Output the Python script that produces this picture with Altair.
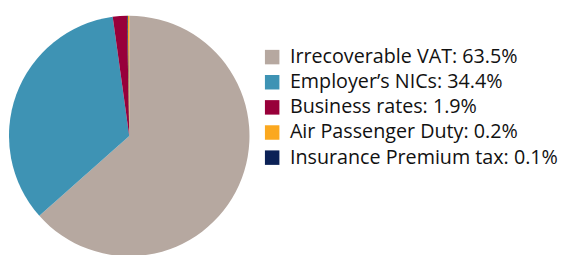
import altair as alt
import pandas as pd

categories = ["Irrecoverable VAT", "Employer\u2019s NICs", "Business rates",
              "Air Passenger Duty", "Insurance Premium tax"]
values = [63.5, 34.4, 1.9, 0.2, 0.1]
pie_order = [0, 1, 2, 4, 3]
colors = ["#B6A8A0", "#3E93B4", "#98003A", "#FBA81F", "#0B2156"]

labels = [f"{c}: {v}%" for c, v in zip(categories, values)]
df = pd.DataFrame({"label": labels, "value": values, "order": pie_order})

chart = alt.Chart(df).mark_arc(radius=122).encode(
    theta=alt.Theta("value:Q", stack=True),
    order=alt.Order("order:Q"),
    x=alt.value(123),
    y=alt.value(128),
    color=alt.Color(
        "label:N",
        scale=alt.Scale(domain=labels, range=colors),
        sort=labels,
        legend=alt.Legend(
            title=None,
            orient="none",
            legendX=258,
            legendY=38,
            symbolType="square",
            symbolSize=216,
            symbolStrokeWidth=0,
            labelFontSize=20,
            labelFont="Open Sans",
            labelColor="#111111",
            rowPadding=5.5,
            labelOffset=8,
            padding=0,
            labelLimit=400,
        ),
    ),
).properties(width=250, height=235, padding=0).configure_view(stroke=None)

chart.save("out.html", embed_options={"renderer": "svg", "actions": False})
